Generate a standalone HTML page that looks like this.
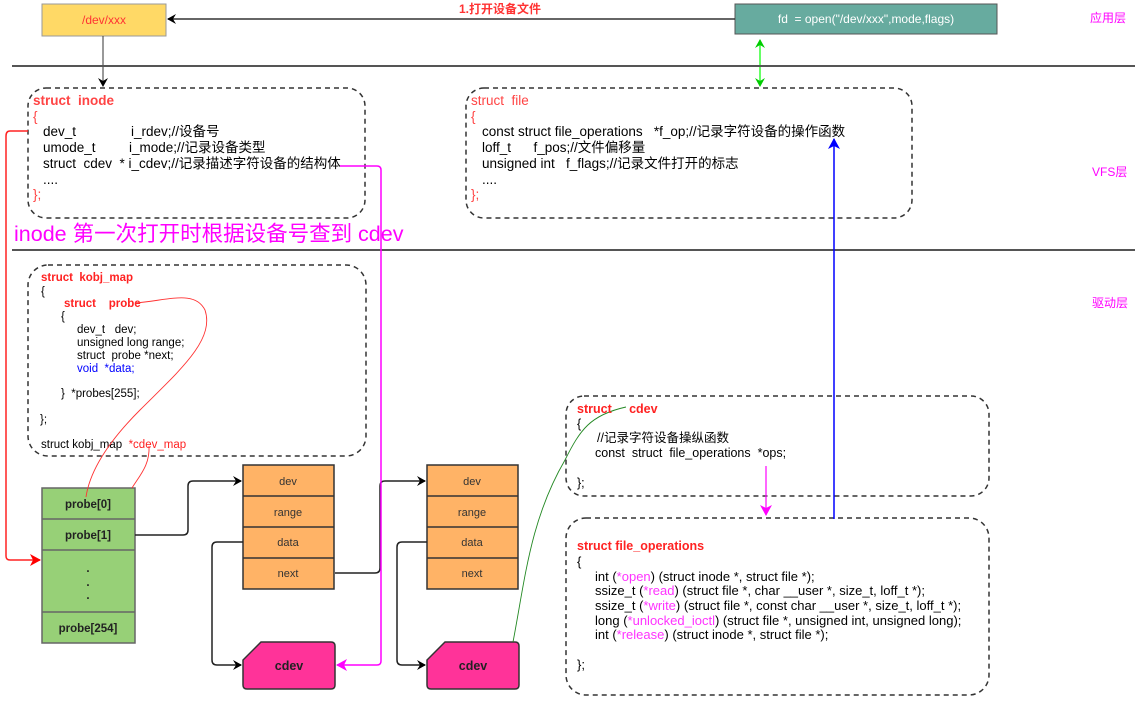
<!DOCTYPE html>
<html><head><meta charset="utf-8"><style>
html,body{margin:0;padding:0;background:#fff;width:1135px;height:702px;overflow:hidden}
text{font-family:"Liberation Sans","Noto Sans CJK SC",sans-serif}
</style></head><body>
<svg width="1135" height="702" viewBox="0 0 1135 702" xmlns="http://www.w3.org/2000/svg">
<defs>
<marker id="ak" markerWidth="10" markerHeight="10" refX="8" refY="5" orient="auto" markerUnits="userSpaceOnUse"><path d="M0,0 L9,5 L0,10 L3,5 Z" fill="#000"/></marker>
<marker id="ar" markerWidth="12" markerHeight="12" refX="10" refY="6" orient="auto" markerUnits="userSpaceOnUse"><path d="M0,0 L11,6 L0,12 L3,6 Z" fill="#f00"/></marker>
<marker id="am" markerWidth="12" markerHeight="12" refX="10" refY="6" orient="auto" markerUnits="userSpaceOnUse"><path d="M0,0 L11,6 L0,12 L3,6 Z" fill="#f0f"/></marker>
<marker id="ag" markerWidth="10" markerHeight="10" refX="8" refY="5" orient="auto-start-reverse" markerUnits="userSpaceOnUse"><path d="M0,0 L9,5 L0,10 L3,5 Z" fill="#0c0"/></marker>
<marker id="ab" markerWidth="12" markerHeight="12" refX="10" refY="6" orient="auto" markerUnits="userSpaceOnUse"><path d="M0,0 L11,6 L0,12 L3,6 Z" fill="#00f"/></marker>
</defs>

<rect x="42" y="4" width="124" height="32" fill="#FFD966" stroke="#999"/>
<text x="104" y="24" font-size="12" fill="#f33" text-anchor="middle">/dev/xxx</text>
<rect x="735" y="4" width="262" height="30" fill="#67AB9F" stroke="#555"/>
<text x="866" y="23" font-size="12" fill="#fff" text-anchor="middle">fd&#160; = open("/dev/xxx",mode,flags)</text>
<line x1="735" y1="19" x2="168" y2="19" stroke="#333" stroke-width="1.5" marker-end="url(#ak)"/>
<text x="500" y="13" font-size="12" fill="#f33" text-anchor="middle" font-weight="bold">1.打开设备文件</text>
<text x="1090" y="22" font-size="12" fill="#f0f">应用层</text>
<line x1="760" y1="40" x2="760" y2="86" stroke="#0f0" stroke-width="1.2" marker-start="url(#ag)" marker-end="url(#ag)"/>
<line x1="103" y1="36" x2="103" y2="86" stroke="#333" stroke-width="1" marker-end="url(#ak)"/>

<line x1="12" y1="66" x2="1135" y2="66" stroke="#555" stroke-width="2"/>
<line x1="12" y1="250" x2="1135" y2="250" stroke="#555" stroke-width="2"/>
<text x="1092" y="176" font-size="12" fill="#f0f">VFS层</text>
<text x="1092" y="307" font-size="12" fill="#f0f">驱动层</text>

<rect x="28" y="88" width="337" height="130" rx="18" fill="none" stroke="#333" stroke-dasharray="5,4" stroke-width="1.5"/>
<g font-size="13.5">
<text x="33" y="105" fill="#f44" font-weight="bold">struct&#160; inode</text>
<text x="33" y="121" fill="#f44">{</text>
<text x="43" y="136" fill="#000">dev_t</text><text x="131" y="136" fill="#000">i_rdev;//设备号</text>
<text x="43" y="152" fill="#000">umode_t</text><text x="129" y="152" fill="#000">i_mode;//记录设备类型</text>
<text x="43" y="168" fill="#000">struct&#160; cdev&#160; * i_cdev;//记录描述字符设备的结构体</text>
<text x="43" y="184" fill="#000">....</text>
<text x="33" y="199" fill="#f44">};</text>
</g>
<text x="14" y="241" font-size="21.5" fill="#f0f">inode 第一次打开时根据设备号查到 cdev</text>

<rect x="466" y="88" width="446" height="130" rx="18" fill="none" stroke="#333" stroke-dasharray="5,4" stroke-width="1.5"/>
<g font-size="13.5">
<text x="471" y="105" fill="#f44">struct&#160; file</text>
<text x="471" y="121" fill="#f44">{</text>
<text x="482" y="136" fill="#000">const struct file_operations&#160;&#160; *f_op;//记录字符设备的操作函数</text>
<text x="482" y="152" fill="#000">loff_t&#160;&#160;&#160;&#160;&#160; f_pos;//文件偏移量</text>
<text x="482" y="168" fill="#000">unsigned int&#160;&#160; f_flags;//记录文件打开的标志</text>
<text x="482" y="184" fill="#000">....</text>
<text x="471" y="199" fill="#f44">};</text>
</g>

<rect x="28" y="265" width="338" height="191" rx="20" fill="none" stroke="#333" stroke-dasharray="5,4" stroke-width="1.5"/>
<g font-size="11.5">
<text x="41" y="281" fill="#f22" font-weight="bold">struct&#160; kobj_map</text>
<text x="41" y="295" fill="#000">{</text>
<text x="64" y="307" fill="#f22" font-weight="bold">struct&#160;&#160;&#160; probe</text>
<text x="61" y="320" fill="#000">{</text>
<text x="77" y="333" fill="#000">dev_t&#160;&#160; dev;</text>
<text x="77" y="346" fill="#000">unsigned long range;</text>
<text x="77" y="359" fill="#000">struct&#160; probe *next;</text>
<text x="77" y="372" fill="#00f">void&#160; *data;</text>
<text x="61" y="397" fill="#000">}&#160; *probes[255];</text>
<text x="40" y="423" fill="#000">};</text>
<text x="41" y="448" fill="#000">struct kobj_map&#160; <tspan fill="#f22">*cdev_map</tspan></text>
</g>

<g stroke="#666" stroke-width="1.5" fill="#97D077">
<rect x="42" y="488" width="93" height="155"/>
<line x1="42" y1="519" x2="135" y2="519"/>
<line x1="42" y1="550" x2="135" y2="550"/>
<line x1="42" y1="612" x2="135" y2="612"/>
</g>
<g font-size="11.5" fill="#222" text-anchor="middle" font-weight="bold">
<text x="88" y="508">probe[0]</text>
<text x="88" y="539">probe[1]</text>
<text x="88" y="572">.</text><text x="88" y="586">.</text><text x="88" y="599">.</text>
<text x="88" y="632">probe[254]</text>
</g>

<g stroke="#333" stroke-width="1.5" fill="#FFB366">
<rect x="243" y="465" width="91" height="124"/>
<line x1="243" y1="496" x2="334" y2="496"/><line x1="243" y1="527" x2="334" y2="527"/><line x1="243" y1="558" x2="334" y2="558"/>
<rect x="427" y="465" width="91" height="124"/>
<line x1="427" y1="496" x2="518" y2="496"/><line x1="427" y1="527" x2="518" y2="527"/><line x1="427" y1="558" x2="518" y2="558"/>
</g>
<g font-size="11" fill="#333" text-anchor="middle">
<text x="288" y="485">dev</text><text x="288" y="516">range</text><text x="288" y="546">data</text><text x="288" y="577">next</text>
<text x="472" y="485">dev</text><text x="472" y="516">range</text><text x="472" y="546">data</text><text x="472" y="577">next</text>
</g>

<path d="M261,642 L331,642 Q335,642 335,646 L335,685 Q335,689 331,689 L247,689 Q243,689 243,685 L243,660 Z" fill="#FF3399" stroke="#333" stroke-width="1.5"/>
<path d="M445,642 L515,642 Q519,642 519,646 L519,685 Q519,689 515,689 L431,689 Q427,689 427,685 L427,660 Z" fill="#FF3399" stroke="#333" stroke-width="1.5"/>
<text x="289" y="670" font-size="12.5" font-weight="bold" fill="#222" text-anchor="middle">cdev</text>
<text x="473" y="670" font-size="12.5" font-weight="bold" fill="#222" text-anchor="middle">cdev</text>

<g fill="none" stroke="#222" stroke-width="1.5">
<path d="M135,535 L183,535 Q188,535 188,530 L188,486 Q188,481 193,481 L241,481" marker-end="url(#ak)"/>
<path d="M243,542 L217,542 Q212,542 212,547 L212,660 Q212,665 217,665 L241,665" marker-end="url(#ak)"/>
<path d="M335,573 L375,573 Q380,573 380,568 L380,486 Q380,481 385,481 L425,481" marker-end="url(#ak)"/>
<path d="M427,542 L402,542 Q397,542 397,547 L397,660 Q397,665 402,665 L425,665" marker-end="url(#ak)"/>
</g>

<path d="M28,131 L10,131 Q6,131 6,136 L6,556 Q6,560 10,560 L40,560" fill="none" stroke="#f22" stroke-width="1.5" marker-end="url(#ar)"/>
<path d="M340,166 L377,166 Q381,166 381,170 L381,661 Q381,665 377,665 L337,665" fill="none" stroke="#f0f" stroke-width="1.5" marker-end="url(#am)"/>

<path d="M86,497 C90,470 110,440 140,410 C180,370 215,340 205,310 C195,290 170,300 135,303" fill="none" stroke="#f33" stroke-width="0.9"/>
<path d="M132,488 C140,475 150,465 149,446" fill="none" stroke="#f33" stroke-width="0.9"/>
<path d="M513,642 C525,580 530,520 565,460 C580,430 590,415 626,407" fill="none" stroke="#282" stroke-width="0.9"/>

<rect x="566" y="396" width="423" height="100" rx="18" fill="none" stroke="#333" stroke-dasharray="5,4" stroke-width="1.5"/>
<g font-size="12.5">
<text x="577" y="413" fill="#f22" font-weight="bold">struct&#160;&#160;&#160;&#160; cdev</text>
<text x="577" y="428" fill="#000">{</text>
<text x="597" y="442" fill="#000">//记录字符设备操纵函数</text>
<text x="595" y="457" fill="#000">const&#160; struct&#160; file_operations&#160; *ops;</text>
<text x="577" y="487" fill="#000">};</text>
</g>
<line x1="766" y1="466" x2="766" y2="515" stroke="#f0f" stroke-width="1.2" marker-end="url(#am)"/>

<rect x="566" y="518" width="423" height="177" rx="20" fill="none" stroke="#333" stroke-dasharray="5,4" stroke-width="1.5"/>
<g font-size="13">
<text x="577" y="550" fill="#f22" font-weight="bold" font-size="12.5">struct file_operations</text>
<text x="577" y="566" fill="#000">{</text>
<text x="595" y="581" fill="#000">int (<tspan fill="#f3f">*open</tspan>) (struct inode *, struct file *);</text>
<text x="595" y="595" fill="#000">ssize_t (<tspan fill="#f3f">*read</tspan>) (struct file *, char __user *, size_t, loff_t *);</text>
<text x="595" y="610" fill="#000">ssize_t (<tspan fill="#f3f">*write</tspan>) (struct file *, const char __user *, size_t, loff_t *);</text>
<text x="595" y="625" fill="#000">long (<tspan fill="#f3f">*unlocked_ioctl</tspan>) (struct file *, unsigned int, unsigned long);</text>
<text x="595" y="639" fill="#000">int (<tspan fill="#f3f">*release</tspan>) (struct inode *, struct file *);</text>
<text x="577" y="669" fill="#000">};</text>
</g>
<line x1="834" y1="519" x2="834" y2="139" stroke="#00f" stroke-width="1.5" marker-end="url(#ab)"/>
</svg>
</body></html>
